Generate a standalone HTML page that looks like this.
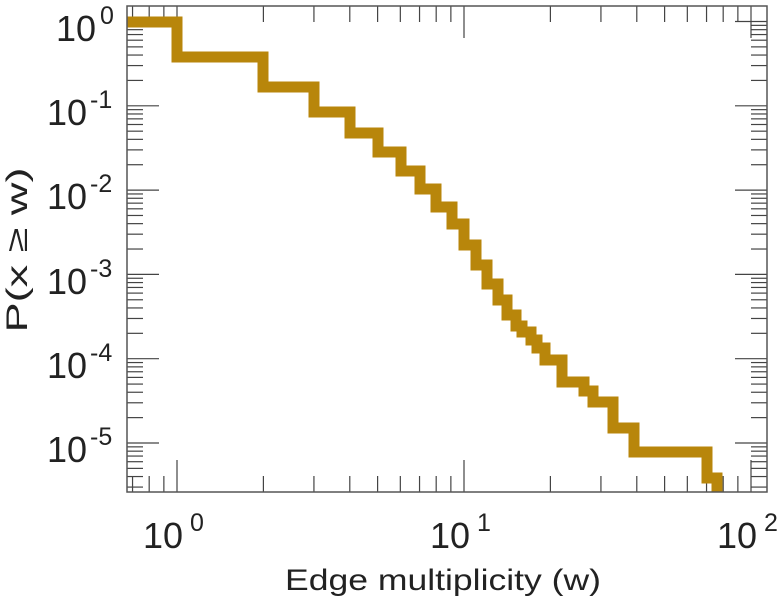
<!DOCTYPE html>
<html><head><meta charset="utf-8"><style>
html,body{margin:0;padding:0;background:#fff;}
svg{display:block;font-family:"Liberation Sans",sans-serif;}
</style></head><body>
<svg width="782" height="600" viewBox="0 0 782 600" xmlns="http://www.w3.org/2000/svg">
<g id="ticks" stroke="#444" stroke-width="1.2"></g>
<polyline fill="none" stroke="#B8860B" stroke-width="11" stroke-linejoin="miter" stroke-linecap="butt"
points="127,22 177,22 177,57 263,57 263,87 314,87 314,112 350,112 350,133 378,133 378,152 401,152 401,171 420,171 420,189 436,189 436,207 452,207 452,224 464,224 464,245 476,245 476,265 487,265 487,284 498,284 498,300 507,300 507,315 516,315 516,326 522,326 522,332 531,332 531,340 537,340 537,348 545,348 545,360 562,360 562,382 584,382 584,391 593,391 593,402 613,402 613,428 634,428 634,452 707,452 707,478 717,478 717,492"/>
<rect x="127" y="6" width="640" height="486" fill="none" stroke="#555" stroke-width="1.5"/>
<g fill="#222" font-size="36">
<text x="96" y="41" text-anchor="end">10</text><text x="100" y="24" font-size="25">0</text>
<text x="87" y="125" text-anchor="end">10</text><text x="90" y="108" font-size="25">-1</text>
<text x="87" y="209" text-anchor="end">10</text><text x="90" y="192" font-size="25">-2</text>
<text x="87" y="294" text-anchor="end">10</text><text x="90" y="277" font-size="25">-3</text>
<text x="87" y="378" text-anchor="end">10</text><text x="90" y="361" font-size="25">-4</text>
<text x="87" y="462" text-anchor="end">10</text><text x="90" y="445" font-size="25">-5</text>
<text x="183" y="548" text-anchor="end">10</text><text x="190" y="531" font-size="25">0</text>
<text x="470" y="548" text-anchor="end">10</text><text x="477" y="531" font-size="25">1</text>
<text x="757" y="548" text-anchor="end">10</text><text x="764" y="531" font-size="25">2</text>
</g>
<text x="443" y="590" text-anchor="middle" font-size="30" fill="#222" textLength="316" lengthAdjust="spacingAndGlyphs">Edge multiplicity (w)</text>
<text transform="translate(27,250) rotate(-90)" text-anchor="middle" font-size="30" fill="#222" textLength="165" lengthAdjust="spacingAndGlyphs">P(x ≥ w)</text>
</svg>
<script>
(function(){
var g=document.getElementById('ticks'),s='';
var L=127,R=767,T=6,B=492;
function X(l){return 177+(l)*287;}
function Y(l){return 21.5-(l)*84.3;}
function line(a,b,c,d){s+='<line x1="'+a+'" y1="'+b+'" x2="'+c+'" y2="'+d+'"/>';}
for(var e=-1;e<=2;e++){for(var m=1;m<10;m++){var l=e+Math.log10(m);var x=X(l);if(x<L+1||x>R-1)continue;var len=m==1?32:16;line(x,B,x,B-len);line(x,T,x,T+len);}}
for(var e=-6;e<=0;e++){for(var m=1;m<10;m++){var l=e+Math.log10(m);var y=Y(l);if(y<T+1||y>B-1)continue;var len=m==1?32:16;line(L,y,L+len,y);line(R,y,R-len,y);}}
g.innerHTML=s;
})();
</script>
</body></html>
